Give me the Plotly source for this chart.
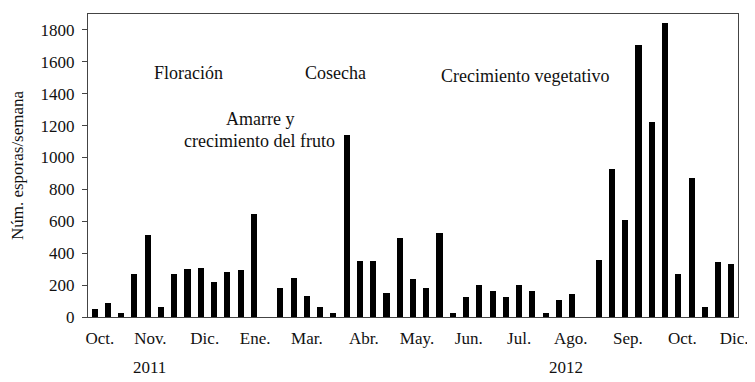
import plotly.graph_objects as go

weeks = list(range(49))
esporas = [50, 90, 25, 268, 514, 63, 268, 304, 310, 222, 284, 297, 646, None,
           182, 247, 130, 65, 27, 1140, 351, 351, 153, 494, 238, 182, 525, 27,
           125, 199, 161, 125, 199, 161, 25, 105, 142, None,
           360, 931, 607, 1705, 1221, 1841, 272, 874, 63, 345, 331]

month_pos = [0.4, 4.2, 8.3, 12.1, 16.0, 20.3, 24.3, 28.2, 32.0, 35.9, 40.2, 44.3, 48.2]
month_labels = ["Oct.", "Nov.", "Dic.", "Ene.", "Mar.", "Abr.", "May.", "Jun.",
                "Jul.", "Ago.", "Sep.", "Oct.", "Dic."]

years = ["2011", "2012"]
year_pos = [4.15, 35.55]

phases = ["Floración", "Cosecha", "Amarre y", "crecimiento del fruto", "Crecimiento vegetativo"]
phase_x = [7.1, 18.15, 12.5, 12.45, 32.45]
phase_y = [1533, 1533, 1240, 1102, 1510]

FONT = "Liberation Serif"

fig = go.Figure()
fig.add_trace(go.Bar(x=weeks, y=esporas, marker=dict(color="black", line=dict(width=0)),
                     width=0.46))

for t, x, y in zip(phases, phase_x, phase_y):
    fig.add_annotation(x=x, y=y, text=t, showarrow=False, xref="x", yref="y",
                       xanchor="center", yanchor="middle",
                       font=dict(family=FONT, size=18, color="#111"))

for t, x in zip(years, year_pos):
    fig.add_annotation(x=x, y=-0.167, text=t, showarrow=False, xref="x", yref="paper",
                       xanchor="center", yanchor="middle",
                       font=dict(family=FONT, size=17, color="#111"))

fig.update_layout(
    width=747, height=374,
    margin=dict(l=80, r=17, t=6, b=65),
    plot_bgcolor="white", paper_bgcolor="white",
    showlegend=False, bargap=0,
    font=dict(family=FONT, size=17, color="#111"),
)
fig.update_xaxes(range=[-0.5, 48.5], tickmode="array", tickvals=month_pos, ticktext=month_labels,
                 ticks="", showgrid=False, zeroline=False, showline=True, linecolor="#444",
                 linewidth=1, mirror=True, ticklabelstandoff=6, automargin=False,
                 tickfont=dict(family=FONT, size=17, color="#111"))
fig.update_yaxes(range=[0, 1900], tickvals=[0, 200, 400, 600, 800, 1000, 1200, 1400, 1600, 1800],
                 ticks="outside", ticklen=5, tickcolor="#444", showgrid=False, zeroline=False,
                 showline=True, linecolor="#444", linewidth=1, mirror=True, ticklabelstandoff=4,
                 automargin=False,
                 title=dict(text="Núm. esporas/semana", font=dict(family=FONT, size=17, color="#111"),
                            standoff=22),
                 tickfont=dict(family=FONT, size=17, color="#111"))

fig.write_html("out.html")
